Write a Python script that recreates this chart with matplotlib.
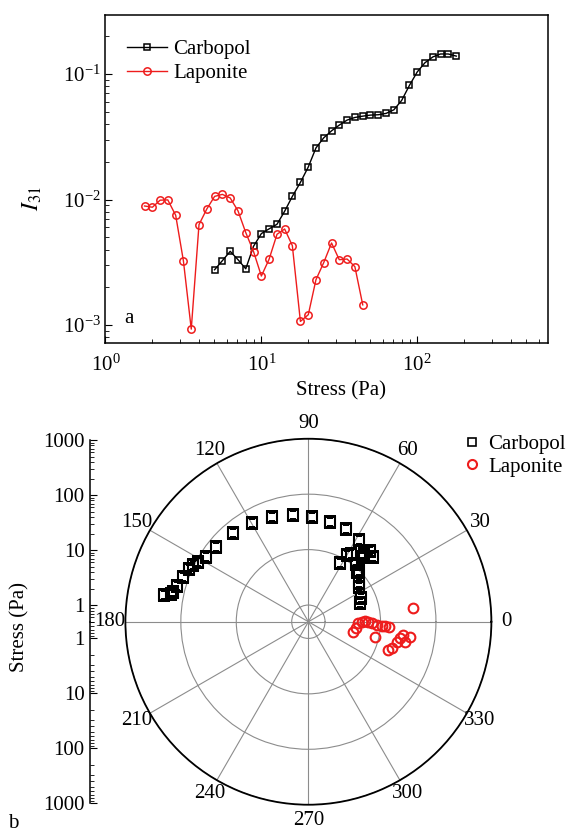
import numpy as np
import matplotlib
matplotlib.use("Agg")
import matplotlib.pyplot as plt
from matplotlib.ticker import LogLocator, FixedLocator, FixedFormatter, NullFormatter
from matplotlib.lines import Line2D

plt.rcParams['font.family'] = ['Liberation Serif', 'DejaVu Serif']
plt.rcParams['mathtext.fontset'] = 'stix'
plt.rcParams['font.size'] = 15

# ---- panel a: I31 vs stress ----
carb_stress = [5.01, 5.62, 6.31, 7.08, 7.94, 8.91, 10.0, 11.2, 12.6, 14.1, 15.8, 17.8,
               20.0, 22.4, 25.1, 28.2, 31.6, 35.5, 39.8, 44.7, 50.1, 56.2, 63.1, 70.8,
               79.4, 89.1, 100, 112, 126, 141, 158, 178]
carb_i31 = [2.76e-3, 3.26e-3, 3.87e-3, 3.32e-3, 2.81e-3, 4.25e-3, 5.36e-3, 5.84e-3,
            6.36e-3, 8.07e-3, 1.06e-2, 1.37e-2, 1.82e-2, 2.58e-2, 3.10e-2, 3.53e-2,
            3.92e-2, 4.30e-2, 4.51e-2, 4.62e-2, 4.71e-2, 4.74e-2, 4.86e-2, 5.19e-2,
            6.16e-2, 8.12e-2, 0.104, 0.123, 0.137, 0.1445, 0.1445, 0.139]

lap_stress = [1.78, 2.00, 2.24, 2.51, 2.82, 3.16, 3.55, 3.98, 4.47, 5.01, 5.62, 6.31,
              7.08, 7.94, 8.91, 10.0, 11.2, 12.6, 14.1, 15.8, 17.8, 20.0, 22.4, 25.1,
              28.2, 31.6, 35.5, 39.8, 44.7]
lap_i31 = [8.89e-3, 8.69e-3, 9.89e-3, 9.94e-3, 7.50e-3, 3.26e-3, 9.29e-4, 6.32e-3,
           8.43e-3, 1.06e-2, 1.10e-2, 1.03e-2, 8.13e-3, 5.46e-3, 3.85e-3, 2.46e-3,
           3.34e-3, 5.29e-3, 5.83e-3, 4.30e-3, 1.07e-3, 1.21e-3, 2.30e-3, 3.14e-3,
           4.51e-3, 3.32e-3, 3.36e-3, 2.92e-3, 1.45e-3]

# ---- panel b: polar (angle in degrees, stress in Pa) ----
carb_theta = [19.6, 24.0, 34.5, 37.0, 61.6, 45.8, 45.2, 50.7, 59.7, 57.8, 50.6, 50.8,
              45.0, 49.0, 58.1, 68.1, 77.8, 87.9, 98.3, 109.1, 119.5, 130.6, 140.9,
              147.9, 151.4, 153.9, 156.3, 160.5, 164.8, 167.5, 168.7, 169.5]
carb_r = [4.9, 5.5, 6.25, 7.07, 7.9, 9.05, 9.9, 11.0, 12.4, 13.9, 16.4, 18.9, 21.9,
          25.0, 27.3, 31.3, 34.6, 39.4, 44.6, 49.2, 56.5, 63.0, 70.2, 76.7, 91.4,
          102.6, 112.5, 127.0, 141.0, 156.7, 170.0, 222.0]

lap_theta = [347.4, 352.1, 358.2, 0.0, 0.7, 0.0, 358.6, 347.3, 357.3, 356.9, 357.0,
             356.5, 340.5, 342.7, 347.2, 349.7, 352.0, 348.3, 351.6, 7.6]
lap_r = [3.38, 3.68, 3.97, 4.57, 5.25, 6.0, 6.93, 8.53, 8.79, 10.5, 12.1, 14.5, 16.9,
         18.7, 21.5, 23.9, 26.7, 30.1, 35.6, 40.5]

fig = plt.figure(figsize=(5.69, 8.36), dpi=100)

ax = fig.add_axes([0.1854, 0.5897, 0.7777, 0.3927])
ax.plot(carb_stress, carb_i31, color='black', lw=1, marker='s', ms=4.8, mfc='none',
        mew=1.1, label='Carbopol')
ax.plot(lap_stress, lap_i31, color='#ee1c1c', lw=1, marker='o', ms=5.3, mfc='none',
        mew=1.1, label='Laponite')
ax.set_xscale('log')
ax.set_yscale('log')
ax.set_xlim(1, 690)
ax.set_ylim(7.2e-4, 0.297)
ax.tick_params(which='both', direction='in', top=False, right=False, labelsize=15)
ax.tick_params(which='major', length=5)
ax.tick_params(which='minor', length=3)
ax.tick_params(axis='x', pad=8)
for s in ax.spines.values():
    s.set_linewidth(1.1)
ax.set_xlabel('Stress (Pa)', fontsize=15)
ax.xaxis.set_label_coords(0.532, -0.115)
ax.set_ylabel('$I_{31}$', fontsize=17)
ax.yaxis.set_label_coords(-0.14, 0.44)
ax.legend(loc='upper left', bbox_to_anchor=(0.03, 0.95), frameon=False, fontsize=15,
          handlelength=1.9, handletextpad=0.3, labelspacing=0.2, borderaxespad=0)
ax.text(0.042, 0.06, 'a', transform=ax.transAxes, fontsize=15)

# polar panel
pax = fig.add_axes([0.2204, 0.0374, 0.6432, 0.4378], projection='polar')
pax.set_rscale('log')
pax.set_rlim(0.5, 1000)
pax.set_rticks([1, 10, 100, 1000])
pax.set_yticklabels([])
angles = list(range(0, 360, 30))
pax.set_thetagrids(angles, labels=[str(a) for a in angles])
pax.set_xticks(np.deg2rad(np.arange(15, 360, 30)), minor=True)
pax.tick_params(axis='x', which='both', direction='in', length=5, width=1,
                labelsize=15, pad=4)
pax.grid(True, color='#8c8c8c', lw=0.8)
pax.spines['polar'].set_linewidth(1.3)
pax.plot(np.deg2rad(carb_theta), carb_r, ls='none', marker='s', ms=6.5, mfc='none',
         mec='black', mew=1.5)
pax.plot(np.deg2rad(lap_theta), lap_r, ls='none', marker='o', ms=7, mfc='none',
         mec='#ee1c1c', mew=1.5)

handles = [Line2D([], [], ls='none', marker='s', ms=6, mfc='none', mec='black', mew=1.2),
           Line2D([], [], ls='none', marker='o', ms=6.5, mfc='none', mec='#ee1c1c', mew=1.5)]
fig.legend(handles, ['Carbopol', 'Laponite'], loc='upper left',
           bbox_to_anchor=(0.8, 0.4905), frameon=False, fontsize=15, handlelength=0.8,
           handletextpad=0.4, labelspacing=0.15, borderaxespad=0)

# mirrored stress scale on the left
x_sp = 90 / 569
half = 0.2173
for k, (bot, lims) in enumerate([(0.2563, (0.5, 1000)), (0.0390, (1000, 0.5))]):
    sax = fig.add_axes([x_sp, bot, 0.001, half])
    sax.set_yscale('log')
    sax.set_ylim(*lims)
    sax.patch.set_visible(False)
    for name in ['top', 'right', 'bottom']:
        sax.spines[name].set_visible(False)
    sax.spines['left'].set_linewidth(1.1)
    sax.set_xticks([])
    sax.yaxis.set_major_locator(FixedLocator([1, 10, 100, 1000]))
    sax.yaxis.set_major_formatter(FixedFormatter(['1', '10', '100', '1000']))
    sax.yaxis.set_minor_locator(LogLocator(base=10, subs=np.arange(2, 10)))
    sax.yaxis.set_minor_formatter(NullFormatter())
    sax.tick_params(axis='y', which='both', direction='in', labelsize=15, pad=4)
    sax.tick_params(which='major', length=5)
    sax.tick_params(which='minor', length=3)

fig.text(20 / 569, 1 - 627 / 836, 'Stress (Pa)', rotation=90, ha='center', va='center',
         fontsize=15)
fig.text(13 / 569, 1 - 824 / 836, 'b', ha='center', va='center', fontsize=15)

fig.savefig('out.png', dpi=100)
